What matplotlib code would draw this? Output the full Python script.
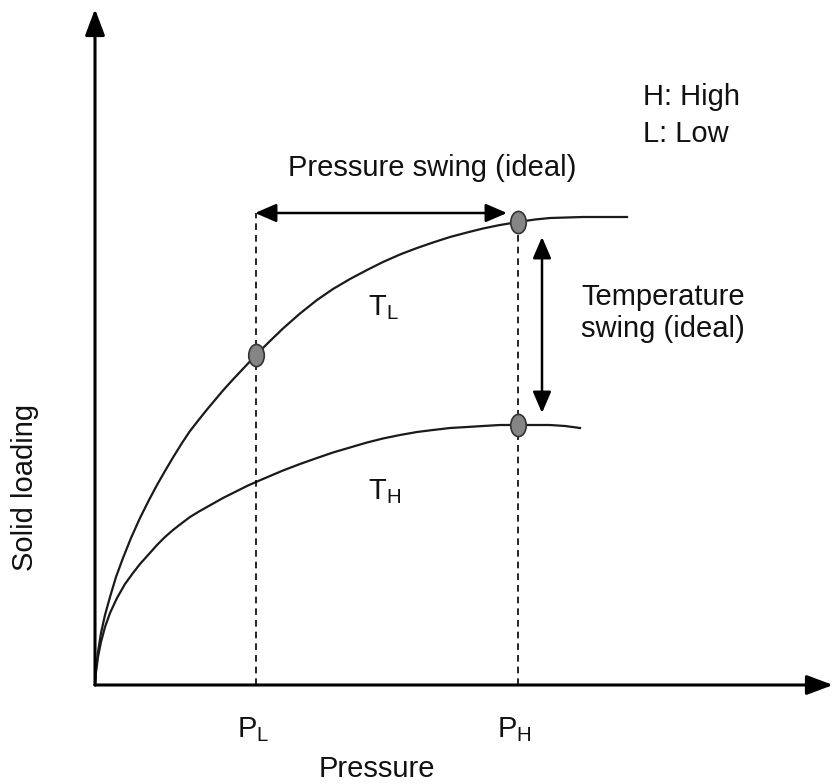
import numpy as np
import matplotlib
matplotlib.use("Agg")
import matplotlib.pyplot as plt
from matplotlib.path import Path
from matplotlib.transforms import Affine2D

plt.rcParams['font.family'] = ['Liberation Sans', 'DejaVu Sans']
plt.rcParams['mathtext.fontset'] = 'custom'
plt.rcParams['mathtext.rm'] = 'Liberation Sans'
plt.rcParams['mathtext.it'] = 'Liberation Sans:italic'

# isotherm at low temperature (T_L)
pressure_TL = [0, 1, 3, 6, 10, 15, 21, 28, 36, 45, 54, 62, 70, 78, 87, 95, 104, 112,
               120, 128, 137, 145, 153, 161, 175, 188, 205, 222, 238, 255, 272, 288,
               305, 322, 338, 355, 372, 388, 405, 423, 440, 455, 488, 532]
loading_TL = [0, 16, 33, 52, 70, 88, 108, 127, 147, 167, 185, 200, 214, 227.5, 242, 254,
              265.5, 275.5, 285, 294.5, 304.5, 313, 321.5, 330, 344, 356.5, 371.5, 385,
              396, 406, 415, 423, 430.5, 437, 442.5, 448, 452.5, 456.5, 460, 463, 465.5,
              467, 468, 468]

# isotherm at high temperature (T_H)
pressure_TH = [0, 1, 3, 6, 10, 15, 22, 30, 38, 45, 54, 62, 70, 78, 87, 95, 104, 112,
               120, 128, 137, 145, 153, 161, 175, 188, 205, 222, 238, 255, 272, 288,
               305, 322, 338, 355, 372, 388, 405, 423, 440, 455, 470, 485]
loading_TH = [0, 13, 28, 43, 58, 72, 87, 101, 112, 121, 131, 140, 148, 155, 162, 168,
              173.5, 178, 182.5, 187, 191.5, 195.5, 199.5, 203, 209, 214.5, 221, 227,
              232.5, 237.5, 242.5, 246.5, 250, 253, 255, 257, 258, 259, 260, 260, 260,
              260, 259, 257]

# operating pressures and the marked points
P_low = 161
P_high = 423
point_P = [P_low, P_high, P_high]
point_q = [330, 463, 260]

fig = plt.figure(figsize=(8.34, 7.84), dpi=100)
ax = fig.add_axes([0, 0, 1, 1])
ax.set_xlim(-95, 739)
ax.set_ylim(-99, 685)
ax.axis('off')

fs = 21
col = '#111111'

# axes with arrow heads
axis_arrow = dict(arrowstyle='-|>,head_length=0.8,head_width=0.3', lw=2.2, color='black',
                  mutation_scale=20, shrinkA=0, shrinkB=0)
ax.annotate('', xy=(0, 676), xytext=(0, 0), arrowprops=axis_arrow)
ax.annotate('', xy=(738, 0), xytext=(0, 0), arrowprops=axis_arrow)

# isotherms
ax.plot(pressure_TL, loading_TL, color='#1a1a1a', lw=1.6, solid_joinstyle='round')
ax.plot(pressure_TH, loading_TH, color='#1a1a1a', lw=1.6, solid_joinstyle='round')

# dashed verticals at P_L and P_H
ax.plot([P_low, P_low], [0, 472], color='black', lw=1.2, ls=(0, (4, 3)))
ax.plot([P_high, P_high], [0, 463], color='black', lw=1.2, ls=(0, (4, 3)))

# oval markers
oval = Path.unit_circle().transformed(Affine2D().scale(0.7, 1.0))
ax.plot(point_P, point_q, ls='none', marker=oval, markersize=16,
        markerfacecolor='#858585', markeredgecolor='#333333', markeredgewidth=1.2, zorder=5)

# swing arrows
swing_arrow = dict(arrowstyle='<|-|>,head_length=0.65,head_width=0.28', lw=1.8, color='black',
                   mutation_scale=20, shrinkA=0, shrinkB=0)
ax.annotate('', xy=(412, 472), xytext=(160, 472), arrowprops=swing_arrow)
ax.annotate('', xy=(447, 448), xytext=(447, 272), arrowprops=swing_arrow)

# labels
ax.text(337, 509, 'Pressure swing (ideal)', fontsize=fs, color=col, ha='center', va='baseline')
ax.text(568, 380, 'Temperature', fontsize=fs, color=col, ha='center', va='baseline')
ax.text(568, 348, 'swing (ideal)', fontsize=fs, color=col, ha='center', va='baseline')
ax.text(548, 580, 'H: High', fontsize=fs, color=col, ha='left', va='baseline')
ax.text(548, 543, 'L: Low', fontsize=fs, color=col, ha='left', va='baseline')
ax.text(273, 370, r'T$_\mathrm{L}$', fontsize=fs, color=col, ha='left', va='baseline')
ax.text(273, 186, r'T$_\mathrm{H}$', fontsize=fs, color=col, ha='left', va='baseline')
ax.text(142, -52, r'P$_\mathrm{L}$', fontsize=fs, color=col, ha='left', va='baseline')
ax.text(402, -52, r'P$_\mathrm{H}$', fontsize=fs, color=col, ha='left', va='baseline')
ax.text(282, -92, 'Pressure', fontsize=fs, color=col, ha='center', va='baseline')
ax.text(-70, 198, 'Solid loading', fontsize=fs, color=col, ha='center', va='center', rotation=90)

fig.savefig('out.png', dpi=100)
